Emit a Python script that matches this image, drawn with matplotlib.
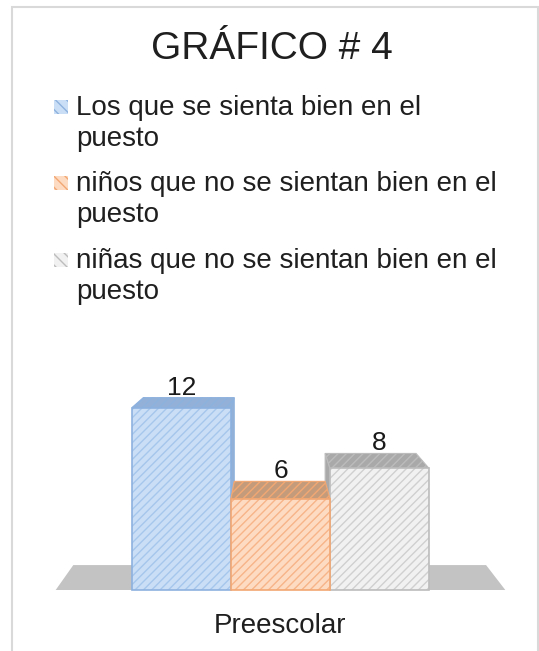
import matplotlib.pyplot as plt
from matplotlib.patches import Polygon, Rectangle

# datos del gráfico
titulo = 'GRÁFICO # 4'
categoria = 'Preescolar'
series = ['Los que se sienta bien en el puesto',
          'niños que no se sientan bien en el puesto',
          'niñas que no se sientan bien en el puesto']
valores = [12, 6, 8]

# colores (frente, rayado, borde, tapa)
col_frente = ['#cadff6', '#fddbc2', '#f1f1f1']
col_rayado = ['#a6c6ec', '#f7b488', '#d0d0d0']
col_borde = ['#8db1de', '#f2a772', '#bcbcbc']
col_tapa = ['#93b1d8', '#c59c7b', '#a9a9a9']

plt.rcParams['font.family'] = ['Liberation Sans', 'DejaVu Sans']
plt.rcParams['hatch.linewidth'] = 1.0

W, H = 539, 651
fig = plt.figure(figsize=(W / 100, H / 100), dpi=100)

# marco del gráfico
fig.add_artist(Rectangle((12 / W, -0.1), 526 / W, 1.1 - 7.5 / H,
                         transform=fig.transFigure, fill=False,
                         edgecolor='#d9d9d9', lw=1.5))

fig.text(272 / W, 1 - 59 / H, titulo, ha='center', va='baseline',
         fontsize=28, color='#1f1f1f')

# leyenda dibujada a mano
base_y = [115, 191, 268]
for i, nombre in enumerate(series):
    linea1, linea2 = nombre.rsplit(' ', 1)
    y = base_y[i]
    fig.add_artist(Rectangle((54 / W, 1 - (y - 1) / H), 14 / W, 14 / H,
                             transform=fig.transFigure,
                             facecolor=col_frente[i], edgecolor=col_borde[i],
                             hatch='\\\\\\', lw=0))
    fig.text(76 / W, 1 - y / H, linea1, fontsize=20, color='#1f1f1f',
             va='baseline')
    fig.text(76 / W, 1 - (y + 31) / H, linea2, fontsize=20, color='#1f1f1f',
             va='baseline')

# ejes: eje x en unidades de barra, eje y en valores
ymin, ymax = -0.5, 20
px_por_unidad = 15.2
y0_px = 590 + 0.5 * px_por_unidad
alto_px = (ymax - ymin) * px_por_unidad
ax = fig.add_axes([23 / W, (H - y0_px) / H, 515 / W, alto_px / H])
ax.set_xlim(-2.6, 2.6)
ax.set_ylim(ymin, ymax)

# perspectiva: punto de fuga y profundidad
vx, vy = -0.1, 20.0
d = 0.082


def atras(x, y):
    return (x + d * (vx - x), y + d * (vy - y))


# suelo
suelo = [(-2.27, 0), (2.27, 0), atras(2.27, 0), atras(-2.27, 0)]
ax.add_patch(Polygon(suelo, closed=True, facecolor='#c3c3c3',
                     edgecolor='none', zorder=1))

posiciones = [-1, 0, 1]
orden = sorted(range(len(valores)), key=lambda i: -abs(posiciones[i] - vx))
for k, i in enumerate(orden):
    xc, v = posiciones[i], valores[i]
    x0, x1 = xc - 0.5, xc + 0.5
    z = 2 + 3 * k
    # cara lateral visible
    xs = x1 if x1 < vx else (x0 if x0 > vx else None)
    if xs is not None:
        lado = [(xs, 0), (xs, v), atras(xs, v), atras(xs, 0)]
        ax.add_patch(Polygon(lado, closed=True, facecolor=col_tapa[i],
                             edgecolor=col_borde[i], lw=0.8, zorder=z))
    # tapa superior
    tapa = [(x0, v), (x1, v), atras(x1, v), atras(x0, v)]
    ax.add_patch(Polygon(tapa, closed=True, facecolor=col_tapa[i],
                         edgecolor=col_borde[i], lw=0.8, hatch='////',
                         zorder=z + 1))
    # cara frontal
    ax.bar(xc, v, width=1.0, color=col_frente[i], edgecolor=col_rayado[i],
           hatch='////', lw=0, zorder=z + 2)
    ax.bar(xc, v, width=1.0, fill=False, edgecolor=col_borde[i], lw=1.2,
           zorder=z + 2)
    # etiqueta del valor
    ax.text(xc, atras(xc, v)[1] + 0.2, str(v), ha='center', va='baseline',
            fontsize=19, color='#1a1a1a', zorder=20)

ax.set_xticks([0], [categoria])
ax.tick_params(axis='x', length=0, pad=11, labelsize=20, labelcolor='#1f1f1f')
ax.set_yticks([])
for s in ax.spines.values():
    s.set_visible(False)
ax.patch.set_alpha(0)

fig.savefig('out.png', dpi=100)
